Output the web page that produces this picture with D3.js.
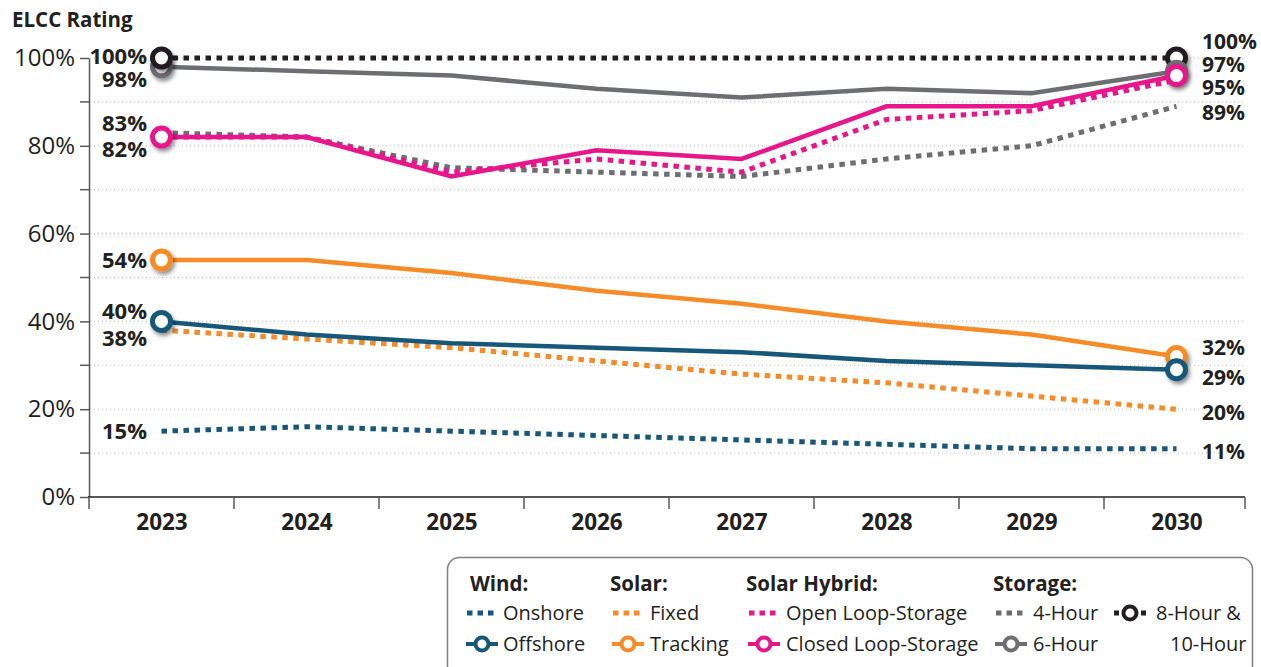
<!DOCTYPE html>
<html>
<head>
<meta charset="utf-8">
<script src="https://cdn.jsdelivr.net/npm/d3@7"></script>
<style>
  body { margin: 0; background: #fff; }
  text { font-family: "Open Sans", sans-serif; fill: #231f20; }
</style>
</head>
<body>
<div id="cnv"></div>
<script>
var width = 1261, height = 667;

// data
var years = [2023, 2024, 2025, 2026, 2027, 2028, 2029, 2030];
var windOnshore  = [15, 16, 15, 14, 13, 12, 11, 11];
var windOffshore = [40, 37, 35, 34, 33, 31, 30, 29];
var solarFixed    = [38, 36, 34, 31, 28, 26, 23, 20];
var solarTracking = [54, 54, 51, 47, 44, 40, 37, 32];
var hybridOpen   = [82, 82, 74, 77, 74, 86, 88, 95];
var hybridClosed = [82, 82, 73, 79, 77, 89, 89, 96];
var storage4h  = [83, 82, 75, 74, 73, 77, 80, 89];
var storage6h  = [98, 97, 96, 93, 91, 93, 92, 97];
var storage8h  = [100, 100, 100, 100, 100, 100, 100, 100];
var yTicks = [0, 20, 40, 60, 80, 100];
var yMinor = [10, 30, 50, 70, 90];

var teal = "#17587a", orange = "#f68b28", pink = "#e8168b", gray = "#6d6e71", black = "#231f20";

var series = [
  {key: "onshore",  values: windOnshore,   color: teal,   dotted: true},
  {key: "fixed",    values: solarFixed,    color: orange, dotted: true},
  {key: "offshore", values: windOffshore,  color: teal,   dotted: false, marker: true},
  {key: "tracking", values: solarTracking, color: orange, dotted: false, marker: true},
  {key: "4h",       values: storage4h,     color: gray,   dotted: true},
  {key: "open",     values: hybridOpen,    color: pink,   dotted: true},
  {key: "closed",   values: hybridClosed,  color: pink,   dotted: false, marker: true},
  {key: "6h",       values: storage6h,     color: gray,   dotted: false, marker: true},
  {key: "8h",       values: storage8h,     color: black,  dotted: true,  marker: true}
];

var svg = d3.select("#cnv").append("svg")
  .attr("width", width)
  .attr("height", height);

var defs = svg.append("defs");
defs.append("filter").attr("id", "shadow")
  .attr("x", "-50%").attr("y", "-50%").attr("width", "200%").attr("height", "200%")
  .append("feDropShadow")
    .attr("dx", 2).attr("dy", 3).attr("stdDeviation", 2)
    .attr("flood-color", "#000").attr("flood-opacity", 0.45);

var xScale = d3.scalePoint().domain(years).range([89, 1249]).padding(0.5);
var step = xScale.step();
var yScale = d3.scaleLinear().domain([0, 100]).range([497, 58]);

// title
svg.append("text")
  .attr("x", 12).attr("y", 27)
  .attr("font-size", 20.5).attr("font-weight", "bold")
  .text("ELCC Rating");

// gridlines
svg.append("g").selectAll("line")
  .data(d3.range(10, 101, 10))
  .enter().append("line")
    .attr("x1", 90).attr("x2", 1245)
    .attr("y1", function(d){ return yScale(d); })
    .attr("y2", function(d){ return yScale(d); })
    .attr("stroke", "#bdbdbd")
    .attr("stroke-width", 1)
    .attr("stroke-dasharray", "1,3");

// y axis
var yAxis = svg.append("g")
  .attr("transform", "translate(89,0)")
  .call(d3.axisLeft(yScale).tickValues(yTicks).tickSize(9).tickSizeOuter(0).tickPadding(5)
    .tickFormat(function(d){ return d + "%"; }));
yAxis.selectAll("text").attr("font-size", 24).attr("font-family", "Open Sans").attr("fill", "#231f20");
yAxis.selectAll("line, path").attr("stroke", "#58595b").attr("stroke-width", 1.5);
yAxis.append("g").selectAll("line")
  .data(yMinor).enter().append("line")
    .attr("x1", -9).attr("x2", 0)
    .attr("y1", function(d){ return yScale(d); })
    .attr("y2", function(d){ return yScale(d); })
    .attr("stroke", "#58595b").attr("stroke-width", 1.5);

// x axis
var xAxis = svg.append("g")
  .attr("transform", "translate(0,497)")
  .call(d3.axisBottom(xScale).tickSize(0).tickPadding(17).tickSizeOuter(0));
xAxis.select(".domain").remove();
xAxis.selectAll("text").attr("font-size", 22.5).attr("font-weight", "bold")
  .attr("font-family", "Open Sans").attr("fill", "#231f20");
xAxis.append("line")
  .attr("x1", 88).attr("x2", 1245)
  .attr("stroke", "#231f20").attr("stroke-width", 1.5);
xAxis.append("g").selectAll("line")
  .data(years.map(function(d){ return xScale(d) - step / 2; }).concat([1245]))
  .enter().append("line")
    .attr("x1", function(d){ return d; }).attr("x2", function(d){ return d; })
    .attr("y1", 0).attr("y2", 12)
    .attr("stroke", "#58595b").attr("stroke-width", 1.5);

// lines
var line = d3.line()
  .x(function(d, i){ return xScale(years[i]); })
  .y(function(d){ return yScale(d); });

svg.append("g").selectAll("path")
  .data(series)
  .enter().append("path")
    .attr("d", function(d){ return line(d.values); })
    .attr("fill", "none")
    .attr("stroke", function(d){ return d.color; })
    .attr("stroke-width", function(d){ return d.dotted ? 5 : 4.5; })
    .attr("stroke-dasharray", function(d){ return d.dotted ? "5.5,5.5" : null; });

// end markers
var first = series.filter(function(s){ return s.marker; })
  .map(function(s){ return {s: s, v: s.values[0], x: years[0]}; })
  .sort(function(a, b){ return a.v - b.v; });
var last = series.filter(function(s){ return s.marker; })
  .map(function(s){ return {s: s, v: s.values[years.length - 1], x: years[years.length - 1]}; })
  .sort(function(a, b){ return b.v - a.v; });

svg.append("g").selectAll("circle")
  .data(first.concat(last))
  .enter().append("circle")
    .attr("cx", function(d){ return xScale(d.x); })
    .attr("cy", function(d){ return yScale(d.v); })
    .attr("r", 9)
    .attr("fill", "#fff")
    .attr("stroke", function(d){ return d.s.color; })
    .attr("stroke-width", 5)
    .attr("filter", "url(#shadow)");

// value labels
var leftLabels = [
  {key: "8h", dy: -2}, {key: "6h", dy: 12}, {key: "4h", dy: -10}, {key: "closed", dy: 12},
  {key: "tracking", dy: 0}, {key: "offshore", dy: -10}, {key: "fixed", dy: 8}, {key: "onshore", dy: 0}
];
var rightLabels = [
  {key: "8h", dy: -17}, {key: "6h", dy: -7}, {key: "open", dy: 7}, {key: "4h", dy: 6},
  {key: "tracking", dy: -9}, {key: "offshore", dy: 8}, {key: "fixed", dy: 3}, {key: "onshore", dy: 3}
];
function valueOf(key, i) {
  return series.filter(function(s){ return s.key == key; })[0].values[i];
}

svg.append("g").selectAll("text")
  .data(leftLabels).enter().append("text")
    .attr("x", 147)
    .attr("y", function(d){ return yScale(valueOf(d.key, 0)) + d.dy; })
    .attr("dy", "0.36em")
    .attr("text-anchor", "end")
    .attr("font-size", 22).attr("font-weight", "bold")
    .text(function(d){ return valueOf(d.key, 0) + "%"; });

svg.append("g").selectAll("text")
  .data(rightLabels).enter().append("text")
    .attr("x", 1202)
    .attr("y", function(d){ return yScale(valueOf(d.key, years.length - 1)) + d.dy; })
    .attr("dy", "0.36em")
    .attr("font-size", 21).attr("font-weight", "bold")
    .text(function(d){ return valueOf(d.key, years.length - 1) + "%"; });

// legend
var legend = svg.append("g");
legend.append("rect")
  .attr("x", 447.5).attr("y", 557.5)
  .attr("width", 805).attr("height", 130)
  .attr("rx", 12)
  .attr("fill", "#fff").attr("stroke", "#808080").attr("stroke-width", 1.5);

var legendHeads = [
  {text: "Wind:", x: 470}, {text: "Solar:", x: 610},
  {text: "Solar Hybrid:", x: 746}, {text: "Storage:", x: 993}
];
legend.selectAll("text.head")
  .data(legendHeads).enter().append("text")
    .attr("class", "head")
    .attr("x", function(d){ return d.x; }).attr("y", 591)
    .attr("font-size", 20.5).attr("font-weight", "bold")
    .text(function(d){ return d.text; });

var legendItems = [
  {key: "onshore", label: "Onshore", cx: 482, tx: 503, row: 0},
  {key: "offshore", label: "Offshore", cx: 482, tx: 503, row: 1},
  {key: "fixed", label: "Fixed", cx: 628, tx: 650, row: 0},
  {key: "tracking", label: "Tracking", cx: 628, tx: 650, row: 1},
  {key: "open", label: "Open Loop-Storage", cx: 764, tx: 786, row: 0},
  {key: "closed", label: "Closed Loop-Storage", cx: 764, tx: 786, row: 1},
  {key: "4h", label: "4-Hour", cx: 1011, tx: 1033, row: 0},
  {key: "6h", label: "6-Hour", cx: 1011, tx: 1033, row: 1},
  {key: "8h", label: "8-Hour &", cx: 1130, tx: 1156, row: 0}
];
var rowY = [613, 644];

legendItems.forEach(function(item){
  var s = series.filter(function(d){ return d.key == item.key; })[0];
  var cy = rowY[item.row];
  var g = legend.append("g");
  if (s.key == "8h") {
    g.append("line")
      .attr("x1", item.cx - 16).attr("x2", item.cx + 16)
      .attr("y1", cy).attr("y2", cy)
      .attr("stroke", s.color).attr("stroke-width", 5)
      .attr("stroke-dasharray", "5,22");
    g.append("circle").attr("cx", item.cx).attr("cy", cy).attr("r", 6.5)
      .attr("fill", "#fff").attr("stroke", s.color).attr("stroke-width", 4);
  } else if (s.marker) {
    g.append("line")
      .attr("x1", item.cx - 16).attr("x2", item.cx + 16)
      .attr("y1", cy).attr("y2", cy)
      .attr("stroke", s.color).attr("stroke-width", 4);
    g.append("circle").attr("cx", item.cx).attr("cy", cy).attr("r", 6.5)
      .attr("fill", "#fff").attr("stroke", s.color).attr("stroke-width", 4);
  } else {
    g.append("line")
      .attr("x1", item.cx - 15).attr("x2", item.cx + 16)
      .attr("y1", cy).attr("y2", cy)
      .attr("stroke", s.color).attr("stroke-width", 5)
      .attr("stroke-dasharray", "5.5,5");
  }
  g.append("text")
    .attr("x", item.tx).attr("y", cy).attr("dy", "0.36em")
    .attr("font-size", 20)
    .text(item.label);
});
legend.append("text")
  .attr("x", 1170).attr("y", rowY[1]).attr("dy", "0.36em")
  .attr("font-size", 20)
  .text("10-Hour");
</script>
</body>
</html>
